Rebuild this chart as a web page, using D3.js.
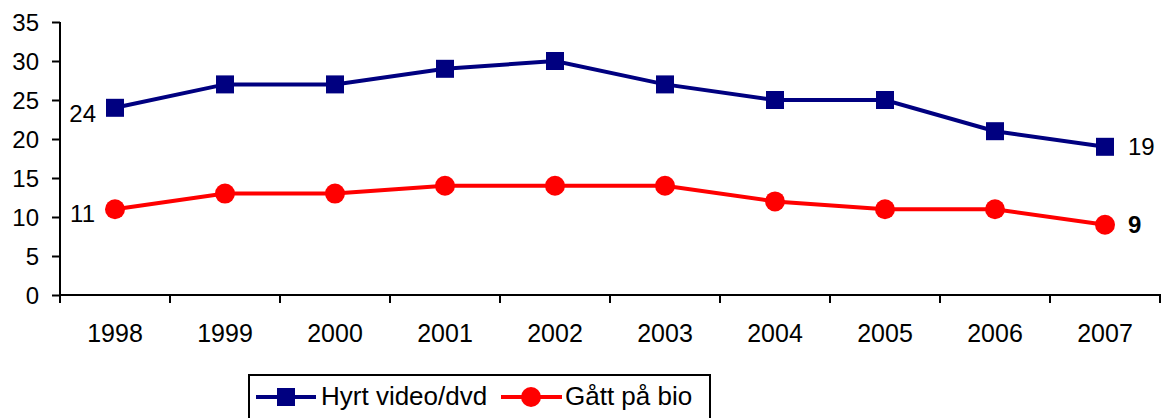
<!DOCTYPE html>
<html><head><meta charset="utf-8">
<script src="https://cdn.jsdelivr.net/npm/d3@7"></script>
<style>body{margin:0;background:#fff}svg{display:block}text{font-family:Arial,"Liberation Sans",sans-serif}</style>
</head><body><svg id="c" width="1161" height="418"></svg>
<script>
const years = ["1998","1999","2000","2001","2002","2003","2004","2005","2006","2007"];
const video = [24,27,27,29,30,27,25,25,21,19];
const bio = [11,13,13,14,14,14,12,11,11,9];
const yTicks = [0,5,10,15,20,25,30,35];
const seriesNames = ["Hyrt video/dvd","Gått på bio"];
const colors = ["#000080","#ff0000"];

const svg = d3.select("#c");
const x = d3.scaleBand().domain(years).range([60,1160]);
const y = d3.scaleLinear().domain([0,35]).range([295,22]);

// y axis
const ya = svg.append("g").attr("transform","translate(60,0)")
  .call(d3.axisLeft(y).tickValues(yTicks).tickSize(8).tickPadding(13));
ya.selectAll("text").style("font-size","24px").attr("fill","#000").attr("dy","0.34em");
ya.selectAll("line,path").attr("stroke","#000").attr("stroke-width",2);
ya.select("path").attr("d","M0,22V295");

// x axis
const xa = svg.append("g").attr("transform","translate(0,295)");
xa.append("line").attr("x1",59).attr("x2",1161).attr("stroke","#000").attr("stroke-width",2);
const bounds = years.map(d=>x(d)).concat([1160]);
xa.selectAll("line.t").data(bounds).enter().append("line").attr("class","t")
  .attr("x1",d=>d).attr("x2",d=>d).attr("y1",0).attr("y2",8).attr("stroke","#000").attr("stroke-width",2);
xa.selectAll("text").data(years).enter().append("text")
  .attr("x",d=>x(d)+x.bandwidth()/2).attr("y",46.5).attr("text-anchor","middle")
  .style("font-size","25px").text(d=>d);

const cx = d=>x(d)+x.bandwidth()/2;
const line = d3.line().x((d,i)=>cx(years[i])).y(d=>y(d));

svg.append("path").datum(video).attr("d",line).attr("fill","none").attr("stroke",colors[0]).attr("stroke-width",4);
svg.append("path").datum(bio).attr("d",line).attr("fill","none").attr("stroke",colors[1]).attr("stroke-width",4);

svg.selectAll("rect.m").data(video).enter().append("rect").attr("class","m")
  .attr("x",(d,i)=>cx(years[i])-9).attr("y",d=>y(d)-9).attr("width",18).attr("height",18).attr("fill",colors[0]);
svg.selectAll("circle.m").data(bio).enter().append("circle").attr("class","m")
  .attr("cx",(d,i)=>cx(years[i])).attr("cy",d=>y(d)).attr("r",10).attr("fill",colors[1]);

// data labels
function lab(val, i, anchor, dx, dy, bold){
  svg.append("text").attr("x",cx(years[i])+dx).attr("y",y(val)+dy)
    .attr("text-anchor",anchor).style("font-size","24px").style("font-weight",bold?"bold":"normal").text(val);
}
lab(video[0],0,"end",-19,14,false);
lab(bio[0],0,"end",-20,13,false);
lab(video[9],9,"start",23,8,false);
lab(bio[9],9,"start",23,8,true);

// legend
const lg = svg.append("g");
lg.append("rect").attr("x",249).attr("y",375).attr("width",461).attr("height",50).attr("fill","#fff").attr("stroke","#000").attr("stroke-width",2);
lg.append("line").attr("x1",256).attr("x2",316).attr("y1",397).attr("y2",397).attr("stroke",colors[0]).attr("stroke-width",4);
lg.append("rect").attr("x",277).attr("y",388).attr("width",18).attr("height",18).attr("fill",colors[0]);
lg.append("text").attr("x",321).attr("y",405).style("font-size","26px").text(seriesNames[0]);
lg.append("line").attr("x1",501).attr("x2",562).attr("y1",397).attr("y2",397).attr("stroke",colors[1]).attr("stroke-width",4);
lg.append("circle").attr("cx",531).attr("cy",397).attr("r",10).attr("fill",colors[1]);
lg.append("text").attr("x",565).attr("y",405).style("font-size","26px").text(seriesNames[1]);
</script></body></html>
